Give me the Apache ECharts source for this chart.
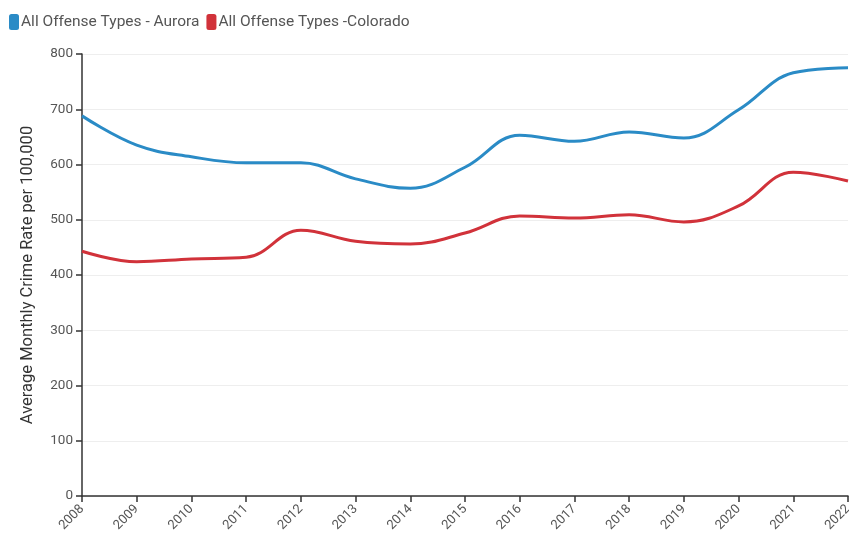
<!DOCTYPE html>
<html style="height: 100%">
<head>
    <meta charset="UTF-8">
    <script src="https://cdn.jsdelivr.net/npm/echarts@6/dist/echarts.min.js"></script>
</head>
<body style="margin: 0; background-color: #ffffff">
    <div id="paint" style="width: 849px; height: 535px"></div>
<script>
    var years = ['2008','2009','2010','2011','2012','2013','2014','2015','2016','2017','2018','2019','2020','2021','2022'];
    var aurora = [688, 635, 614, 603, 603, 574, 557, 595, 653, 642, 659, 648, 699, 766, 775];
    var colorado = [443, 424, 429, 432, 481, 461, 456, 476, 507, 503, 509, 496, 525, 586, 570];

    echarts.init(document.getElementById('paint')).setOption({
        backgroundColor: '#ffffff',
        textStyle: {fontFamily: 'Roboto'},
        legend: {
            left: 4,
            top: 9,
            itemWidth: 10,
            itemHeight: 16,
            itemGap: 7,
            icon: 'roundRect',
            textStyle: {fontSize: 15.5, color: '#555555', padding: [0, 0, 0, -3]},
            data: ['All Offense Types - Aurora', 'All Offense Types -Colorado']
        },
        grid: {left: 82, right: 1, top: 54, bottom: 39, outerBoundsMode: 'none'},
        xAxis: {
            type: 'category',
            boundaryGap: false,
            data: years,
            axisLine: {lineStyle: {color: '#333333', width: 1.5}},
            axisTick: {show: true, length: 6, lineStyle: {color: '#333333', width: 1.5}},
            axisLabel: {rotate: 45, fontSize: 13, color: '#555555', margin: 11},
            splitLine: {show: false}
        },
        yAxis: {
            type: 'value',
            min: 0,
            max: 800,
            interval: 100,
            name: 'Average Monthly Crime Rate per 100,000',
            nameLocation: 'middle',
            nameGap: 46,
            nameTextStyle: {fontSize: 16.5, color: '#333333'},
            axisLine: {show: true, lineStyle: {color: '#333333', width: 1.5}},
            axisTick: {show: true, length: 6, lineStyle: {color: '#333333', width: 1.5}},
            axisLabel: {fontSize: 13.5, color: '#555555', margin: 9},
            splitLine: {lineStyle: {color: '#eeeeee'}}
        },
        series: [
            {
                name: 'All Offense Types - Aurora',
                type: 'line',
                smooth: 0.4,
                symbol: 'none',
                data: aurora,
                itemStyle: {color: '#2a8bc6'},
                lineStyle: {color: '#2a8bc6', width: 3}
            },
            {
                name: 'All Offense Types -Colorado',
                type: 'line',
                smooth: 0.4,
                symbol: 'none',
                data: colorado,
                itemStyle: {color: '#d1323a'},
                lineStyle: {color: '#d1323a', width: 3}
            }
        ]
    });
</script>
</body>
</html>
